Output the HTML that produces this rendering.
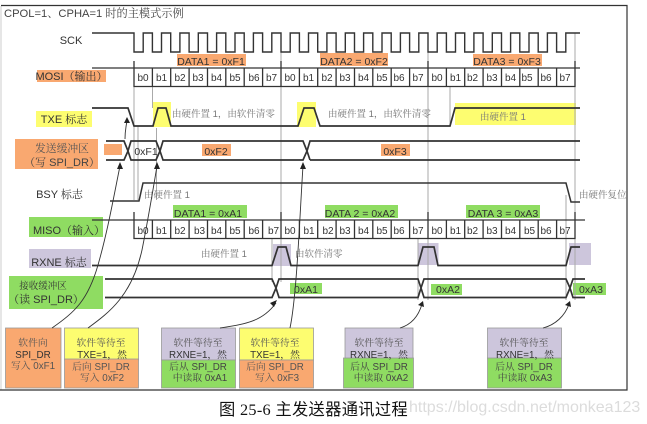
<!DOCTYPE html>
<html><head><meta charset="utf-8"><style>
html,body{margin:0;padding:0;background:#fff}
svg{display:block;filter:blur(.3px)}
text{font-family:"Liberation Sans","Noto Serif CJK SC",sans-serif;font-size:10.5px;fill:#333}
.m{text-anchor:middle}
.b{font-size:10px;text-anchor:middle;fill:#333}
.g{fill:#777;font-size:9.500px}
.n{font-size:9.800px}
.l{fill:none;stroke:#333;stroke-width:1.3}
.t{fill:none;stroke:#333;stroke-width:1.7}
.v{stroke:#aaa;stroke-width:1;fill:none}
.a{fill:none;stroke:#333;stroke-width:.9}
.o{fill:#f9a870}.y{fill:#fdfd70}.p{fill:#cdc6dc}.gr{fill:#8fdc62}
.bx{stroke:#999;stroke-width:.8}
</style></head><body>
<svg width="647" height="424" viewBox="0 0 647 424" xmlns="http://www.w3.org/2000/svg">
<rect width="647" height="424" fill="#fff"/>
<path d="M1 6V390" stroke="#ddd" stroke-width="1.5" fill="none"/>
<path d="M1 5.500H627V390H0" stroke="#333" stroke-width="1.2" fill="none"/>
<text x="4" y="17" style="font-size:11.200px;fill:#444">CPOL=1、CPHA=1 时的主模式示例</text>

<!-- color rects -->
<rect class="o" x="177" y="54" width="69" height="12"/>
<rect class="o" x="320" y="53" width="68" height="13"/>
<rect class="o" x="473" y="54" width="69" height="12"/>
<rect class="o" x="37" y="70" width="69" height="12"/>
<rect class="y" x="36" y="111" width="56" height="16"/>
<rect class="y" x="153" y="102" width="18" height="25"/>
<rect class="y" x="297" y="102" width="19" height="25"/>
<rect class="y" x="455" y="103" width="121" height="22"/>
<rect class="o" x="15" y="139" width="83" height="30"/>
<rect class="o" x="104" y="144" width="18" height="11"/>
<rect class="o" x="202" y="144" width="29" height="12"/>
<rect class="o" x="381" y="144" width="29" height="12"/>
<rect class="gr" x="173" y="205" width="74" height="13"/>
<rect class="gr" x="325" y="205" width="73" height="13"/>
<rect class="gr" x="466" y="205" width="74" height="13"/>
<rect class="gr" x="29" y="217" width="74" height="20"/>
<rect class="p" x="29" y="249" width="62" height="19"/>
<rect class="p" x="273" y="244" width="18" height="22"/>
<rect class="p" x="417.500" y="243" width="21" height="22"/>
<rect class="p" x="569" y="243" width="22" height="22"/>
<rect class="gr" x="9" y="276" width="94" height="33"/>
<rect class="gr" x="290" y="283" width="32" height="11"/>
<rect class="gr" x="431" y="284" width="31" height="11"/>
<rect class="gr" x="573" y="283" width="33" height="12"/>

<!-- grey verticals -->
<path class="v" d="M134 86V200M138 126V200M152.500 86V108M156.500 128V200M281 33V282M428 52V300M575 33V300M566 195V300M418 238V300M272 238V282M450 86V125"/>

<!-- SCK -->
<path class="l" style="stroke-width:1.400" d="M92 33H134V52H143.200V33H152.400V52H161.500V33H170.700V52H179.900V33H189.100V52H198.300V33H207.500V52H216.600V33H225.800V52H235V33H244.200V52H253.400V33H262.600V52H271.800V33H281V52H290.200V33H299.400V52H308.500V33H317.700V52H326.900V33H336.100V52H345.300V33H354.500V52H363.600V33H372.800V52H382V33H391.200V52H400.400V33H409.600V52H418.800V33H428V52H437.200V33H446.400V52H455.500V33H464.700V52H473.900V33H483.100V52H492.300V33H501.500V52H510.600V33H519.800V52H529V33H538.200V52H547.400V33H556.600V52H565.800V33H580"/>

<!-- MOSI -->
<path class="l" d="M92 68H580M134 61V86.500H575V61M281 61V86.500M428 61V86.500M152.400 68V86.500M170.700 68V86.500M189.100 68V86.500M207.500 68V86.500M225.800 68V86.500M244.200 68V86.500M262.600 68V86.500M299.400 68V86.500M317.700 68V86.500M336.100 68V86.500M354.500 68V86.500M372.800 68V86.500M391.200 68V86.500M409.600 68V86.500M446.400 68V86.500M464.700 68V86.500M483.100 68V86.500M501.500 68V86.500M519.800 68V86.500M538.200 68V86.500M556.600 68V86.500"/>
<!-- MISO -->
<path class="l" d="M92 220H585M134 212V238.500H575V212M281 212V238.500M428 212V238.500M152.400 220V238.500M170.700 220V238.500M189.100 220V238.500M207.500 220V238.500M225.800 220V238.500M244.200 220V238.500M262.600 220V238.500M299.400 220V238.500M317.700 220V238.500M336.100 220V238.500M354.500 220V238.500M372.800 220V238.500M391.200 220V238.500M409.600 220V238.500M446.400 220V238.500M464.700 220V238.500M483.100 220V238.500M501.500 220V238.500M519.800 220V238.500M538.200 220V238.500M556.600 220V238.500"/>

<!-- TXE -->
<path class="t" d="M92 108H128L134 126H153L158 108H166L171 126H298L304 108H314L320 126H450L455 108H580"/>
<!-- TX bus -->
<path class="t" d="M106 141H124L128 151L124 160H106M128 151L131 141H156L160 151L156 160H131L128 151M160 151L163 141H303L307 151L303 160H163L160 151M307 151L310 141H580M310 160H580M307 151L310 160"/>
<!-- BSY -->
<path class="l" style="stroke-width:1.500" d="M110 201H139L143 183H566L571 202H580"/>
<!-- RXNE -->
<path class="t" d="M92 265.500H272L278 247H286L291 265.500H418L423 247H434L438 265.500H566L571 247H580"/>
<!-- RX bus -->
<path class="t" d="M105 279H272L276 288L272 297.500H105M276 288L279 279H418L421 288L418 297.500H279L276 288M421 288L424 279H566L570 288L566 297.500H424L421 288M570 288L573 279H585M570 288L573 297.500H585"/>

<!-- bits -->
<g>
<text class="b" x="143" y="81">b0</text><text class="b" x="161.500" y="81">b1</text><text class="b" x="180" y="81">b2</text><text class="b" x="198" y="81">b3</text><text class="b" x="216.500" y="81">b4</text><text class="b" x="235" y="81">b5</text><text class="b" x="254" y="81">b6</text><text class="b" x="271.500" y="81">b7</text>
<text class="b" x="290" y="81">b0</text><text class="b" x="308.500" y="81">b1</text><text class="b" x="327" y="81">b2</text><text class="b" x="345" y="81">b3</text><text class="b" x="363.500" y="81">b4</text><text class="b" x="382" y="81">b5</text><text class="b" x="399" y="81">b6</text><text class="b" x="418" y="81">b7</text>
<text class="b" x="437" y="81">b0</text><text class="b" x="455.500" y="81">b1</text><text class="b" x="472.500" y="81">b2</text><text class="b" x="492" y="81">b3</text><text class="b" x="510.500" y="81">b4</text><text class="b" x="527" y="81">b5</text><text class="b" x="546" y="81">b6</text><text class="b" x="565" y="81">b7</text>
<text class="b" x="143" y="234">b0</text><text class="b" x="161.500" y="234">b1</text><text class="b" x="180" y="234">b2</text><text class="b" x="199.500" y="234">b3</text><text class="b" x="216.500" y="234">b4</text><text class="b" x="235" y="234">b5</text><text class="b" x="254" y="234">b6</text><text class="b" x="273.500" y="234">b7</text>
<text class="b" x="290" y="234">b0</text><text class="b" x="309" y="234">b1</text><text class="b" x="328" y="234">b2</text><text class="b" x="345" y="234">b3</text><text class="b" x="363.500" y="234">b4</text><text class="b" x="382" y="234">b5</text><text class="b" x="399" y="234">b6</text><text class="b" x="418" y="234">b7</text>
<text class="b" x="437" y="234">b0</text><text class="b" x="455.500" y="234">b1</text><text class="b" x="472.500" y="234">b2</text><text class="b" x="492" y="234">b3</text><text class="b" x="510.500" y="234">b4</text><text class="b" x="529.500" y="234">b5</text><text class="b" x="546" y="234">b6</text><text class="b" x="565" y="234">b7</text>
</g>

<!-- labels -->
<text class="m" x="71" y="44" style="font-size:11px">SCK</text>
<text class="m" x="211" y="65">DATA1 = 0xF1</text>
<text class="m" x="354" y="65">DATA2 = 0xF2</text>
<text class="m" x="507" y="65">DATA3 = 0xF3</text>
<text class="m" x="71.500" y="80" style="font-size:11px">MOSI（输出）</text>
<text class="m" x="64" y="123" style="font-size:11px">TXE 标志</text>
<text class="g" x="172" y="117">由硬件置 1，由软件清零</text>
<text class="g" x="328" y="117">由硬件置 1，由软件清零</text>
<text class="g" x="480" y="120">由硬件置 1</text>
<text class="m" x="62" y="152" style="fill:#555;font-size:10.800px">发送缓冲区</text>
<text class="m" x="62" y="166" style="fill:#444;font-size:11px">（写 SPI_DR）</text>
<text class="m" x="146" y="155">0xF1</text>
<text class="m" x="216" y="155">0xF2</text>
<text class="m" x="395" y="155">0xF3</text>
<text class="m" x="59.500" y="198" style="font-size:11px">BSY 标志</text>
<text class="g" x="144" y="198">由硬件置 1</text>
<text class="g" x="579" y="198">由硬件复位</text>
<text class="m" x="208" y="217">DATA1 = 0xA1</text>
<text class="m" x="360" y="217">DATA 2 = 0xA2</text>
<text class="m" x="503" y="217">DATA 3 = 0xA3</text>
<text class="m" x="69" y="234" style="font-size:11px">MISO（输入）</text>
<text class="g" x="201" y="257">由硬件置 1</text>
<text class="g" x="295" y="257">由软件清零</text>
<text class="m" x="59" y="266" style="font-size:11px">RXNE 标志</text>
<text class="m" x="43" y="289" style="font-size:9.500px">接收缓冲区</text>
<text class="m" x="46" y="303" style="font-size:11px">（读 SPI_DR）</text>
<text class="m" x="306" y="293">0xA1</text>
<text class="m" x="448" y="293">0xA2</text>
<text class="m" x="591" y="293">0xA3</text>

<!-- bottom boxes -->
<rect class="o bx" x="5.500" y="328" width="55.500" height="60"/>
<rect class="y bx" x="64.500" y="328" width="74" height="32"/>
<rect class="o bx" x="64.500" y="359" width="74" height="29"/>
<rect class="p bx" x="161.500" y="328" width="74" height="32"/>
<rect class="gr bx" x="161.500" y="360" width="74" height="28"/>
<rect class="y bx" x="239.500" y="328" width="74" height="32"/>
<rect class="o bx" x="239.500" y="360" width="74" height="28"/>
<rect class="p bx" x="345" y="328" width="68" height="31"/>
<rect class="gr bx" x="343.500" y="358" width="70" height="30"/>
<rect class="p bx" x="487.500" y="328" width="74" height="31"/>
<rect class="gr bx" x="487.500" y="358" width="74" height="30"/>

<g>
<text class="m n" x="33" y="346" style="fill:#555">软件向</text><text class="m n" x="33" y="358">SPI_DR</text><text class="m n" x="33" y="369" style="fill:#555">写入 0xF1</text>
<text class="m n" x="101" y="346" style="fill:#555">软件等待至</text><text class="m n" x="102" y="358">TXE=1，然</text><text class="m n" x="101" y="370" style="fill:#555">后向 SPI_DR</text><text class="m n" x="102" y="381" style="fill:#555">写入 0xF2</text>
<text class="m n" x="198" y="346" style="fill:#555">软件等待至</text><text class="m n" x="198" y="358">RXNE=1，然</text><text class="m n" x="198" y="370" style="fill:#444">后从 SPI_DR</text><text class="m n" x="200" y="381" style="fill:#444">中读取 0xA1</text>
<text class="m n" x="275" y="346" style="fill:#555">软件等待至</text><text class="m n" x="275" y="358">TXE=1，然</text><text class="m n" x="275" y="370" style="fill:#555">后向 SPI_DR</text><text class="m n" x="277" y="381" style="fill:#555">写入 0xF3</text>
<text class="m n" x="379" y="346" style="fill:#555">软件等待至</text><text class="m n" x="379" y="358">RXNE=1，然</text><text class="m n" x="379" y="370" style="fill:#444">后从 SPI_DR</text><text class="m n" x="381" y="381" style="fill:#444">中读取 0xA2</text>
<text class="m n" x="524" y="346" style="fill:#555">软件等待至</text><text class="m n" x="525" y="358">RXNE=1，然</text><text class="m n" x="524" y="370" style="fill:#444">后从 SPI_DR</text><text class="m n" x="525" y="381" style="fill:#444">中读取 0xA3</text>
</g>

<!-- arrows -->
<path class="a" d="M52 328C75 312 88 300 98 265C108 230 114 195 120 166"/>
<path d="M120 162L117 169L123 169Z" fill="#222"/>
<path class="a" d="M88 328C110 312 132 295 142 250C148 220 153 190 157 166"/>
<path d="M157 162L154 169L160 169Z" fill="#222"/>
<path class="a" d="M220 328C245 324 262 322 276 303"/>
<path d="M277 300L270 303L274 307Z" fill="#222"/>
<path class="a" d="M290 328C297 295 300 210 303 166"/>
<path d="M303 162L300 169L306 169Z" fill="#222"/>
<path class="a" d="M400 328C410 325 418 318 422 304"/>
<path d="M423 301L418 305L424 307Z" fill="#222"/>
<path class="a" d="M543 328C555 325 565 316 569 304"/>
<path d="M570 301L565 305L571 307Z" fill="#222"/>
<path class="a" d="M125 139C125 132 126 126 127 121"/>
<path d="M127 117L124 123L130 123Z" fill="#222"/>

<!-- caption -->
<text x="219" y="415" style="font-family:'Liberation Serif','Noto Sans CJK SC',sans-serif;font-size:16.300px;font-weight:400;fill:#111;letter-spacing:.3px">图 25-6 主发送器通讯过程</text>
<text x="409" y="412" style="font-family:'Liberation Sans',sans-serif;font-size:16px;fill:#dcdcdc">https://blog.csdn.net/monkea123</text>
</svg>
</body></html>
